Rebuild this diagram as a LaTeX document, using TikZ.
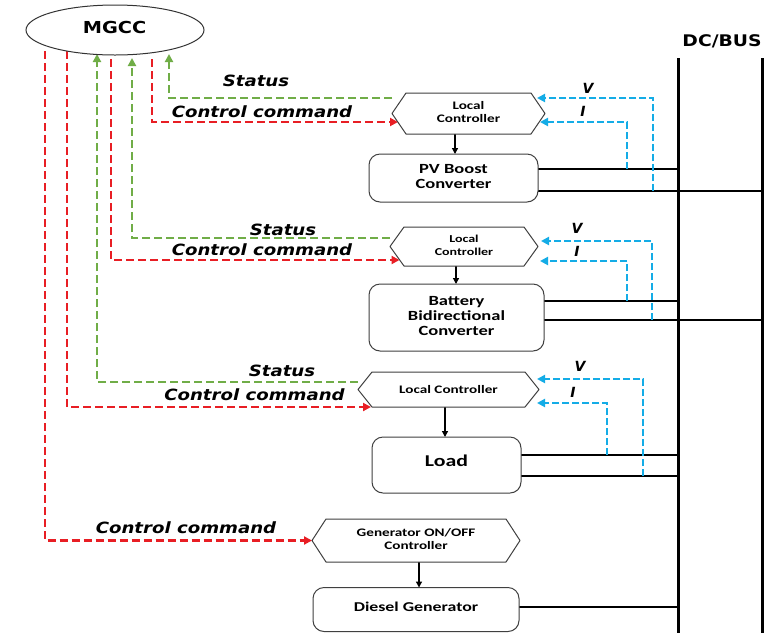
\documentclass[tikz,border=0pt]{standalone}
\usepackage{fontspec}
\usepackage{graphicx}
\usetikzlibrary{arrows.meta,calc,shapes.geometric}
\newfontfamily\lblfont{DejaVu Sans}[BoldFont={DejaVu Sans Bold},BoldItalicFont={DejaVu Sans Bold Oblique},ItalicFont={DejaVu Sans Oblique}]
\newfontfamily\boxfont{Carlito}
\definecolor{cmdred}{RGB}{232,30,36}
\definecolor{statgreen}{RGB}{112,173,71}
\definecolor{senseblue}{RGB}{20,172,230}
% horizontally widened text
\newcommand{\widelabel}[1]{\scalebox{1.17}[1]{#1}}
\newcommand{\boxlines}[1]{\scalebox{1.32}[1]{\begin{tabular}{@{}c@{}}#1\end{tabular}}}
% hexagonal outline around a rectangular node
\newcommand{\hexframe}[1]{%
  \draw[hexline] (#1.west) -- ($(#1.north west)+(14,0)$) -- ($(#1.north east)+(-14,0)$)
   -- (#1.east) -- ($(#1.south east)+(-14,0)$) -- ($(#1.south west)+(14,0)$) -- cycle;}
\pgfdeclarelayer{wires}
\pgfdeclarelayer{frames}
\pgfsetlayers{wires,frames,main}
\begin{document}
\begin{tikzpicture}[x=1pt,y=-1pt,
  every node/.style={inner sep=0pt,outer sep=0pt},
  hexnode/.style={rectangle,align=center,font=\boxfont\bfseries\fontsize{11.5}{13.3}\selectfont},
  hexline/.style={draw=black!75,line width=1pt,fill=white,line join=round},
  unitbox/.style={draw=black!75,line width=1pt,fill=white,rounded corners=11pt,
    font=\boxfont\bfseries\fontsize{14}{15}\selectfont},
  wire/.style={black,line width=1.1pt},
  bus/.style={black,line width=3pt},
  cmd/.style={draw=cmdred,line width=2.9pt,dash pattern=on 8pt off 4pt,-{Triangle[length=8pt,width=8pt]}},
  status/.style={draw=statgreen,line width=2.9pt,dash pattern=on 8pt off 4pt,-{Triangle[length=8pt,width=8pt]}},
  sense/.style={draw=senseblue,line width=2.9pt,dash pattern=on 7pt off 3pt,-{Triangle[length=8pt,width=8pt]}},
  feed/.style={black,line width=1.3pt,-{Triangle[length=6pt,width=6pt]}},
  lbl/.style={font=\lblfont\bfseries\itshape\fontsize{15.5}{18}\selectfont},
  vilbl/.style={font=\lblfont\bfseries\itshape\fontsize{14}{16}\selectfont},
  hdr/.style={font=\lblfont\bfseries\fontsize{16}{18}\selectfont}]

\useasboundingbox (0,0) rectangle (784,633);
\begin{pgfonlayer}{wires}
  \fill[white] (0,0) rectangle (784,633);
\end{pgfonlayer}

% central controller
\node[draw=black!80,line width=1pt,ellipse,minimum width=178pt,minimum height=50pt,fill=white] (mgcc) at (115,30) {};
\node[hdr,font=\lblfont\bfseries\fontsize{16.5}{18}\selectfont] (mgcctext) at (114.5,27.5) {\widelabel{MGCC}};

% local controllers
\node[hexnode,minimum width=153pt,minimum height=41pt] (lc1) at (468.5,113.5) {\scalebox{1.32}[1]{\begin{tabular}{@{}c@{}}Local\\Controller\end{tabular}}};
\node[hexnode,minimum width=148pt,minimum height=39pt,font=\boxfont\bfseries\fontsize{10.6}{12.5}\selectfont] (lc2) at (464,246.5) {\scalebox{1.32}[1]{\begin{tabular}{@{}c@{}}Local\\Controller\end{tabular}}};
\node[hexnode,minimum width=181pt,minimum height=35pt] (lc3) at (448.5,389.5) {\scalebox{1.32}[1]{Local Controller}};
\node[hexnode,minimum width=208pt,minimum height=43pt] (lcg) at (416,540.5) {\scalebox{1.32}[1]{\begin{tabular}{@{}c@{}}Generator ON/OFF\\Controller\end{tabular}}};

% power units
\node[unitbox,minimum width=169pt,minimum height=48pt] (pv) at (453.5,178) {\boxlines{PV Boost\\Converter}};
\node[unitbox,minimum width=175pt,minimum height=67pt] (bat) at (456.5,317.5) {\boxlines{Battery\\Bidirectional\\Converter}};
\node[unitbox,minimum width=149pt,minimum height=56pt] (load) at (446.5,465) {};
\node[font=\boxfont\bfseries\fontsize{16.5}{18}\selectfont] (loadtext) at (446.5,461) {\scalebox{1.32}[1]{Load}};
\node[unitbox,minimum width=206pt,minimum height=44pt] (dg) at (416,609.5) {};
\node[font=\boxfont\bfseries\fontsize{13.5}{15}\selectfont] (dgtext) at (416,607) {\scalebox{1.32}[1]{Diesel Generator}};

% signal labels
\node[lbl] (st1) at (256,81) {\widelabel{Status}};
\node[lbl] (cc1) at (262,111.5) {\widelabel{Control command}};
\node[lbl] (st2) at (283,229.5) {\widelabel{Status}};
\node[lbl] (cc2) at (262,250) {\widelabel{Control command}};
\node[lbl] (st3) at (282,370.5) {\widelabel{Status}};
\node[lbl] (cc3) at (254.5,395) {\widelabel{Control command}};
\node[lbl] (cc4) at (186,528) {\widelabel{Control command}};
\node[vilbl] (v1) at (588,88) {V};
\node[vilbl] (i1) at (583,111) {I};
\node[vilbl] (v2) at (577,228) {V};
\node[vilbl] (i2) at (577,251.5) {I};
\node[vilbl] (v3) at (580,366) {V};
\node[vilbl] (i3) at (573,392.5) {I};
\node[hdr] (dcbus) at (722,41) {\widelabel{DC/BUS}};

% bus rails and tap points
\coordinate (busA) at (678,58);
\coordinate (busB) at (762,58);
\coordinate (m1) at (45,51);
\coordinate (m2) at (67,51);
\coordinate (m3) at (97,54);
\coordinate (m4) at (111,59);
\coordinate (m5) at (132,58);
\coordinate (m6) at (152,59);
\coordinate (m7) at (169,54);
\coordinate (pvV) at (653,191);
\coordinate (pvI) at (627,169);
\coordinate (batV) at (652,320);
\coordinate (batI) at (627,301);
\coordinate (ldV) at (643,476);
\coordinate (ldI) at (607,455);

\begin{pgfonlayer}{frames}
  \hexframe{lc1}\hexframe{lc2}\hexframe{lc3}\hexframe{lcg}
\end{pgfonlayer}

\begin{pgfonlayer}{wires}
  % DC bus
  \draw[bus] (busA) -- (busA |- 0,633);
  \draw[bus] (busB) -- (busB |- 0,633);
  % power connections
  \draw[wire] (pv.east |- 0,169) -- (busA |- 0,169);
  \draw[wire] (pv.east |- 0,191) -- (busB |- 0,191);
  \draw[wire] (bat.east |- 0,301) -- (busA |- 0,301);
  \draw[wire] (bat.east |- 0,320) -- (busB |- 0,320);
  \draw[wire] (load.east |- 0,455) -- (busA |- 0,455);
  \draw[wire] (load.east |- 0,476) -- (busA |- 0,476);
  \draw[wire] (dg.east |- 0,607) -- (busA |- 0,607);
  % controller to unit
  \draw[feed] (lc1.south -| 455,0) -- (pv.north -| 455,0);
  \draw[feed] (lc2.south -| 456,0) -- (bat.north -| 456,0);
  \draw[feed] (lc3.south -| 445,0) -- (load.north -| 445,0);
  \draw[feed] (lcg.south -| 419,0) -- (dg.north -| 419,0);
  % voltage and current measurements
  \draw[sense] (pvV) |- ($(lc1.east |- 0,98)+(-8,0)$);
  \draw[sense] (pvI) |- ($(lc1.east |- 0,122)+(-5,0)$);
  \draw[sense] (batV) |- ($(lc2.east |- 0,241)+(3,0)$);
  \draw[sense] (batI) |- ($(lc2.east |- 0,261)+(2,0)$);
  \draw[sense] (ldV) |- ($(lc3.east |- 0,379)+(-2,0)$);
  \draw[sense] (ldI) |- ($(lc3.east |- 0,403)+(-2,0)$);
  % status reports
  \draw[status] (lc1.west |- 0,98) -| (m7);
  \draw[status] (lc2.west |- 0,238) -| (m5);
  \draw[status] (lc3.west |- 0,382) -| (m3);
  % control commands
  \draw[cmd] (m6) |- ($(lc1.west |- 0,122)+(6,0)$);
  \draw[cmd] (m4) |- ($(lc2.west |- 0,260)+(9.5,0)$);
  \draw[cmd] (m2) |- ($(lc3.west |- 0,407)+(13,0)$);
  \draw[cmd] (m1) |- (lcg.west);
\end{pgfonlayer}
\end{tikzpicture}
\end{document}
